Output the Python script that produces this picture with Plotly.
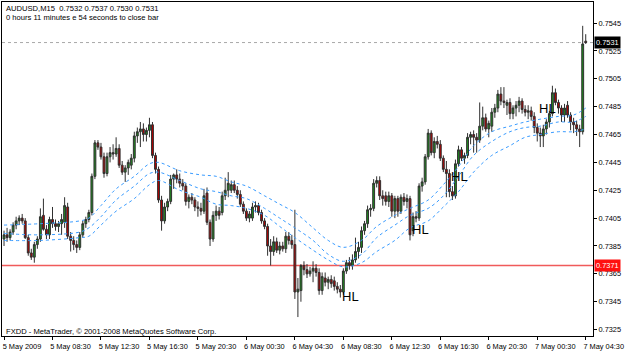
import pandas as pd
import plotly.graph_objects as go

# ---------------- data (AUDUSD M15) ----------------
start_time = "2009-05-05 04:30"
n_bars = 193

open_ = [0.7390,0.7393,0.7391,0.7395,0.7400,0.7403,0.7405,0.7403,0.7391,0.7380,
0.7377,0.7386,0.7390,0.7407,0.7397,0.7393,0.7404,0.7401,0.7399,0.7401,
0.7402,0.7413,0.7392,0.7389,0.7386,0.7384,0.7393,0.7401,0.7404,0.7409,
0.7435,0.7459,0.7456,0.7449,0.7437,0.7449,0.7452,0.7451,0.7455,0.7443,
0.7438,0.7441,0.7443,0.7448,0.7464,0.7467,0.7469,0.7465,0.7468,0.7472,
0.7450,0.7440,0.7418,0.7403,0.7413,0.7417,0.7433,0.7436,0.7433,0.7430,
0.7428,0.7417,0.7420,0.7418,0.7413,0.7412,0.7410,0.7423,0.7402,0.7390,
0.7407,0.7410,0.7409,0.7421,0.7425,0.7425,0.7429,0.7425,0.7422,0.7415,
0.7410,0.7405,0.7405,0.7413,0.7414,0.7409,0.7403,0.7399,0.7385,0.7381,
0.7388,0.7382,0.7385,0.7383,0.7392,0.7389,0.7386,0.7352,0.7353,0.7371,
0.7368,0.7365,0.7367,0.7369,0.7366,0.7353,0.7362,0.7359,0.7361,0.7360,
0.7356,0.7354,0.7352,0.7367,0.7373,0.7371,0.7375,0.7381,0.7384,0.7396,
0.7401,0.7411,0.7412,0.7430,0.7432,0.7421,0.7421,0.7417,0.7421,0.7410,
0.7419,0.7410,0.7420,0.7417,0.7419,0.7396,0.7406,0.7405,0.7428,0.7431,
0.7449,0.7466,0.7452,0.7460,0.7458,0.7448,0.7440,0.7437,0.7424,0.7421,
0.7444,0.7454,0.7448,0.7450,0.7463,0.7465,0.7463,0.7461,0.7471,0.7477,
0.7469,0.7471,0.7481,0.7484,0.7494,0.7489,0.7486,0.7488,0.7480,0.7484,
0.7486,0.7489,0.7483,0.7481,0.7482,0.7478,0.7470,0.7466,0.7464,0.7469,
0.7474,0.7480,0.7495,0.7488,0.7484,0.7479,0.7486,0.7479,0.7474,0.7472,
0.7469,0.7467,0.7532]

high_ = [0.7396,0.7398,0.7397,0.7402,0.7406,0.7407,0.7408,0.7405,0.7393,0.7383,
0.7388,0.7392,0.7412,0.7419,0.7400,0.7406,0.7413,0.7404,0.7403,0.7408,
0.7420,0.7416,0.7395,0.7392,0.7389,0.7395,0.7403,0.7406,0.7411,0.7437,
0.7461,0.7461,0.7459,0.7452,0.7452,0.7456,0.7458,0.7463,0.7458,0.7446,
0.7443,0.7447,0.7451,0.7467,0.7470,0.7474,0.7473,0.7470,0.7477,0.7474,
0.7452,0.7442,0.7421,0.7416,0.7419,0.7436,0.7437,0.7440,0.7437,0.7433,
0.7430,0.7422,0.7423,0.7420,0.7417,0.7416,0.7426,0.7427,0.7404,0.7410,
0.7414,0.7413,0.7424,0.7434,0.7438,0.7432,0.7432,0.7428,0.7425,0.7417,
0.7412,0.7410,0.7416,0.7417,0.7416,0.7411,0.7405,0.7401,0.7390,0.7392,
0.7391,0.7388,0.7388,0.7395,0.7395,0.7393,0.7411,0.7362,0.7372,0.7374,
0.7372,0.7370,0.7374,0.7372,0.7369,0.7366,0.7366,0.7363,0.7364,0.7363,
0.7359,0.7357,0.7369,0.7375,0.7377,0.7379,0.7391,0.7388,0.7399,0.7403,
0.7414,0.7415,0.7433,0.7435,0.7435,0.7425,0.7424,0.7424,0.7423,0.7421,
0.7421,0.7422,0.7423,0.7422,0.7421,0.7409,0.7410,0.7430,0.7434,0.7451,
0.7469,0.7468,0.7463,0.7464,0.7461,0.7450,0.7446,0.7440,0.7428,0.7447,
0.7457,0.7456,0.7452,0.7466,0.7467,0.7468,0.7466,0.7488,0.7485,0.7480,
0.7475,0.7484,0.7487,0.7497,0.7499,0.7499,0.7490,0.7491,0.7486,0.7489,
0.7492,0.7491,0.7486,0.7486,0.7485,0.7481,0.7473,0.7470,0.7472,0.7476,
0.7482,0.7500,0.7498,0.7490,0.7486,0.7487,0.7489,0.7481,0.7477,0.7475,
0.7472,0.7543,0.7537]

low_ = [0.7385,0.7388,0.7389,0.7393,0.7397,0.7400,0.7401,0.7390,0.7378,0.7375,
0.7373,0.7383,0.7388,0.7396,0.7390,0.7390,0.7398,0.7396,0.7395,0.7393,
0.7398,0.7390,0.7381,0.7382,0.7380,0.7382,0.7391,0.7398,0.7402,0.7407,
0.7433,0.7454,0.7447,0.7434,0.7435,0.7445,0.7447,0.7449,0.7441,0.7436,
0.7431,0.7436,0.7440,0.7445,0.7459,0.7456,0.7460,0.7460,0.7463,0.7448,
0.7437,0.7416,0.7396,0.7401,0.7410,0.7415,0.7426,0.7430,0.7427,0.7425,
0.7414,0.7412,0.7415,0.7410,0.7406,0.7407,0.7408,0.7400,0.7385,0.7388,
0.7403,0.7404,0.7407,0.7418,0.7420,0.7423,0.7423,0.7419,0.7413,0.7408,
0.7403,0.7402,0.7403,0.7409,0.7407,0.7401,0.7397,0.7378,0.7371,0.7378,
0.7380,0.7379,0.7381,0.7380,0.7386,0.7383,0.7347,0.7334,0.7345,0.7364,
0.7362,0.7363,0.7359,0.7363,0.7350,0.7350,0.7356,0.7354,0.7355,0.7353,
0.7351,0.7348,0.7350,0.7365,0.7368,0.7368,0.7373,0.7376,0.7380,0.7393,
0.7398,0.7406,0.7410,0.7427,0.7418,0.7414,0.7414,0.7413,0.7406,0.7405,
0.7406,0.7408,0.7414,0.7412,0.7389,0.7392,0.7402,0.7403,0.7424,0.7429,
0.7447,0.7450,0.7448,0.7455,0.7446,0.7438,0.7420,0.7420,0.7418,0.7419,
0.7442,0.7446,0.7444,0.7448,0.7458,0.7452,0.7452,0.7459,0.7468,0.7467,
0.7463,0.7467,0.7477,0.7481,0.7486,0.7484,0.7479,0.7476,0.7476,0.7478,
0.7481,0.7480,0.7478,0.7476,0.7475,0.7466,0.7460,0.7456,0.7456,0.7465,
0.7470,0.7478,0.7486,0.7480,0.7474,0.7474,0.7477,0.7468,0.7466,0.7464,
0.7456,0.7465,0.7530]

close_ = [0.7393,0.7391,0.7395,0.7400,0.7403,0.7405,0.7403,0.7391,0.7380,0.7377,
0.7386,0.7390,0.7406,0.7397,0.7393,0.7404,0.7401,0.7399,0.7401,0.7404,
0.7414,0.7392,0.7389,0.7386,0.7384,0.7393,0.7401,0.7404,0.7409,0.7435,
0.7459,0.7456,0.7449,0.7437,0.7449,0.7452,0.7451,0.7455,0.7443,0.7438,
0.7441,0.7445,0.7448,0.7464,0.7467,0.7469,0.7465,0.7468,0.7472,0.7450,
0.7440,0.7418,0.7403,0.7413,0.7417,0.7433,0.7436,0.7433,0.7430,0.7428,
0.7417,0.7420,0.7418,0.7413,0.7412,0.7410,0.7421,0.7402,0.7390,0.7407,
0.7410,0.7407,0.7421,0.7425,0.7430,0.7429,0.7425,0.7422,0.7415,0.7410,
0.7405,0.7408,0.7413,0.7414,0.7409,0.7403,0.7399,0.7385,0.7381,0.7388,
0.7382,0.7385,0.7383,0.7392,0.7389,0.7386,0.7352,0.7354,0.7371,0.7368,
0.7365,0.7367,0.7369,0.7366,0.7353,0.7363,0.7359,0.7361,0.7358,0.7356,
0.7354,0.7352,0.7367,0.7373,0.7371,0.7375,0.7381,0.7384,0.7396,0.7401,
0.7411,0.7412,0.7430,0.7432,0.7421,0.7419,0.7417,0.7421,0.7410,0.7419,
0.7410,0.7420,0.7417,0.7419,0.7393,0.7406,0.7405,0.7428,0.7431,0.7449,
0.7466,0.7452,0.7460,0.7458,0.7448,0.7440,0.7437,0.7424,0.7421,0.7444,
0.7454,0.7448,0.7450,0.7463,0.7465,0.7463,0.7461,0.7471,0.7477,0.7469,
0.7473,0.7481,0.7484,0.7494,0.7489,0.7488,0.7488,0.7480,0.7484,0.7486,
0.7489,0.7483,0.7481,0.7482,0.7478,0.7470,0.7466,0.7464,0.7469,0.7474,
0.7480,0.7495,0.7488,0.7484,0.7479,0.7484,0.7479,0.7474,0.7472,0.7469,
0.7467,0.7530,0.7531]

# moving-average envelope lines, read at sample bars
ma_bars = [0, 12, 25, 28, 32, 37, 43, 48, 51, 58, 65, 70, 75, 80, 86, 91, 96,
           102, 107, 112, 118, 123, 129, 134, 140, 145, 150, 155, 161, 167, 172,
           177, 183, 188, 192]
ma_upper = [0.7400,0.7401,0.7403,0.7405,0.7414,0.7426,0.7435,0.7444,0.7445,0.7439,
            0.7436,0.7435,0.7431,0.7428,0.7421,0.7415,0.7409,0.7398,0.7389,0.7384,
            0.7389,0.7399,0.7407,0.7412,0.7418,0.7429,0.7442,0.7457,0.7467,0.7471,
            0.7474,0.7476,0.7478,0.7479,0.7484]
ma_mid = [0.7394,0.7393,0.7395,0.7398,0.7406,0.7418,0.7428,0.7437,0.7438,0.7432,
          0.7426,0.7424,0.7421,0.7419,0.7412,0.7405,0.7398,0.7389,0.7379,0.7374,
          0.7379,0.7391,0.7400,0.7407,0.7412,0.7421,0.7435,0.7450,0.7460,0.7467,
          0.7470,0.7471,0.7474,0.7474,0.7478]
ma_lower = [0.7389,0.7389,0.7391,0.7392,0.7400,0.7410,0.7419,0.7429,0.7432,0.7425,
            0.7420,0.7415,0.7414,0.7412,0.7407,0.7399,0.7391,0.7382,0.7375,0.7370,
            0.7373,0.7381,0.7389,0.7398,0.7403,0.7413,0.7424,0.7438,0.7450,0.7457,
            0.7463,0.7465,0.7467,0.7467,0.7469]

hl_bars = [111, 134, 147, 176]
hl_prices = [0.7349, 0.7397, 0.7435, 0.7484]

price_ticks = [0.7325, 0.7345, 0.7365, 0.7385, 0.7405, 0.7425, 0.7445,
               0.7465, 0.7485, 0.7505, 0.7525, 0.7545]
time_tick_bars = [0, 16, 32, 48, 64, 80, 96, 112, 128, 144, 160, 176, 192]
time_tick_labels = ["5 May 2009", "5 May 08:30", "5 May 12:30", "5 May 16:30",
                    "5 May 20:30", "6 May 00:30", "6 May 04:30", "6 May 08:30",
                    "6 May 12:30", "6 May 16:30", "6 May 20:30", "7 May 00:30",
                    "7 May 04:30"]
bid_price = 0.7531
level_price = 0.7371
header_1 = "AUDUSD,M15  0.7532 0.7537 0.7530 0.7531"
header_2 = "0 hours 11 minutes e 54 seconds to close bar"
footer = "FXDD - MetaTrader, © 2001-2008 MetaQuotes Software Corp."

# ---------------- figure ----------------
times = pd.date_range(start_time, periods=n_bars, freq="15min")
FONT = "Liberation Sans, Arial, sans-serif"

fig = go.Figure()
ma_x = [times[i] for i in ma_bars]
for vals in (ma_upper, ma_mid, ma_lower):
    fig.add_trace(go.Scatter(x=ma_x, y=vals, mode="lines",
                             line=dict(color="#3a9cff", width=1, dash="dot", shape="spline"),
                             hoverinfo="skip", showlegend=False))

fig.add_trace(go.Candlestick(
    x=times, open=open_, high=high_, low=low_, close=close_,
    increasing=dict(fillcolor="#1f8a1f", line=dict(color="#303030", width=1)),
    decreasing=dict(fillcolor="#b40000", line=dict(color="#303030", width=1)),
    whiskerwidth=0, showlegend=False))

# horizontal lines
fig.add_shape(type="line", xref="paper", x0=0, x1=1, yref="y", y0=level_price, y1=level_price,
              line=dict(color="#f05a5a", width=1.6), layer="below")
fig.add_shape(type="line", xref="paper", x0=0, x1=1, yref="y", y0=bid_price, y1=bid_price,
              line=dict(color="#a8a8a8", width=1, dash="dot"), layer="below")

annotations = []
for b, p in zip(hl_bars, hl_prices):
    annotations.append(dict(x=times[b], y=p, xref="x", yref="y", text="HL", showarrow=False,
                            xanchor="left", yanchor="middle",
                            font=dict(family=FONT, size=13, color="black")))
annotations += [
    dict(x=0, y=1, xref="paper", yref="paper", xanchor="left", yanchor="top",
         xshift=2, yshift=0, text=header_1, showarrow=False,
         font=dict(family=FONT, size=7.6, color="black")),
    dict(x=0, y=1, xref="paper", yref="paper", xanchor="left", yanchor="top",
         xshift=2, yshift=-9, text=header_2, showarrow=False,
         font=dict(family=FONT, size=7.6, color="black")),
    dict(x=0, y=0, xref="paper", yref="paper", xanchor="left", yanchor="bottom",
         xshift=2, yshift=-2, text=footer, showarrow=False,
         font=dict(family=FONT, size=7.6, color="black")),
    dict(x=1, y=bid_price, xref="paper", yref="y", xanchor="left", yanchor="middle",
         xshift=1, text=f"{bid_price:.4f}", showarrow=False, bgcolor="black",
         borderpad=1, font=dict(family=FONT, size=7.4, color="white")),
    dict(x=1, y=level_price, xref="paper", yref="y", xanchor="left", yanchor="middle",
         xshift=1, text=f"{level_price:.4f}", showarrow=False, bgcolor="#ff1010",
         borderpad=1, font=dict(family=FONT, size=7.4, color="white")),
]

x0 = times[0] - pd.Timedelta(minutes=10)
x1 = times[-1] + pd.Timedelta(minutes=36)

fig.update_layout(
    width=625, height=352,
    margin=dict(l=1, r=29, t=1, b=13),
    paper_bgcolor="white", plot_bgcolor="white",
    showlegend=False,
    boxgap=0.12,
    annotations=annotations,
    xaxis=dict(range=[x0, x1], rangeslider=dict(visible=False),
               tickvals=[times[i] for i in time_tick_bars], ticktext=time_tick_labels,
               ticks="outside", ticklen=3, tickcolor="black", tickwidth=1,
               showgrid=False, zeroline=False,
               showline=True, linecolor="black", linewidth=1, mirror=True,
               ticklabelshift=18, ticklabelstandoff=0, ticklabeloverflow="allow",
               tickfont=dict(family=FONT, size=7.4, color="black")),
    yaxis=dict(range=[0.73204, 0.75601], side="right",
               tickvals=price_ticks, ticktext=[f"{v:.4f}" for v in price_ticks],
               ticks="outside", ticklen=3, tickcolor="black", tickwidth=1,
               showgrid=False, zeroline=False,
               showline=True, linecolor="black", linewidth=1, mirror=True,
               tickfont=dict(family=FONT, size=7.4, color="black")),
)

fig.write_html("out.html")
